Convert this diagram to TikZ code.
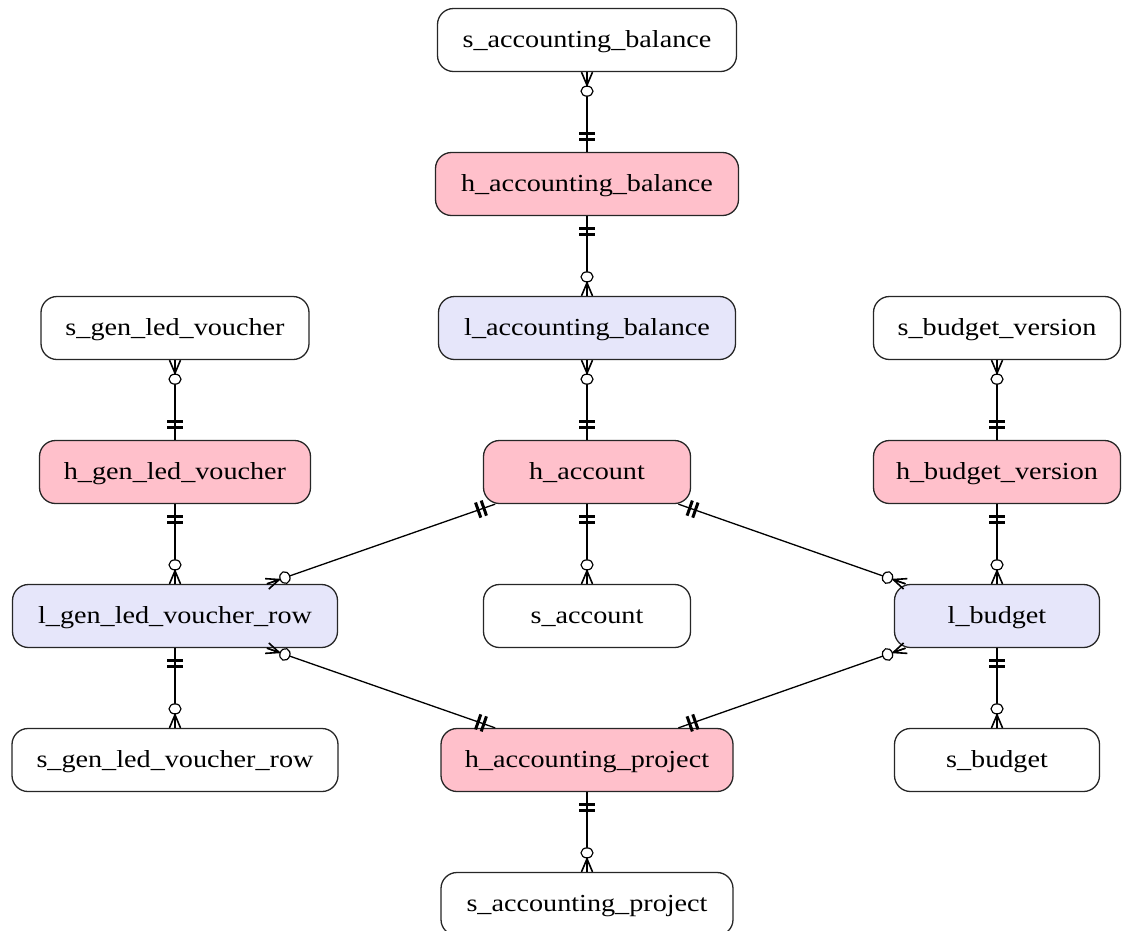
\documentclass[tikz,border=0pt]{standalone}
\usepackage{fontspec}
\setmainfont{Liberation Serif}[FakeStretch=1.15]
\usetikzlibrary{decorations.markings}
\definecolor{hubpink}{HTML}{FFC0CB}
\definecolor{linklav}{HTML}{E6E6FA}
\begin{document}
\begin{tikzpicture}[x=1pt,y=-1pt,
 ent/.style={draw=black!85, line width=1.3pt, rounded corners=16pt, minimum height=63pt, inner sep=0pt, text height=19pt, text depth=5pt, font=\fontsize{24.5}{29}\selectfont, fill=white},
 sat/.style={ent},
 hub/.style={ent, fill=hubpink},
 lnk/.style={ent, fill=linklav},
 rel/.style={draw, line width=1.3pt, postaction=decorate, decoration={markings,
   mark=at position 0 with {\fill (10.5pt,-8pt) rectangle (13.5pt,8pt); \fill (16.5pt,-8pt) rectangle (19.5pt,8pt);},
   mark=at position 1 with {\draw[line width=1.6pt] (-13pt,0pt) -- (0pt,5.5pt) (-13pt,0pt) -- (0pt,0pt) (-13pt,0pt) -- (0pt,-5.5pt); \draw[line width=1.2pt, fill=white] (-19pt,0pt) ellipse [x radius=5pt, y radius=6pt];}}}
]
\useasboundingbox (0,0) rectangle (1124,930);
\node[sat, minimum width=299pt] (sab) at (587,40) {s\_accounting\_balance};
\node[hub, minimum width=303pt] (hab) at (587,184) {h\_accounting\_balance};
\node[lnk, minimum width=297pt] (lab) at (587,328) {l\_accounting\_balance};
\node[sat, minimum width=268pt] (sglv) at (175,328) {s\_gen\_led\_voucher};
\node[sat, minimum width=247pt] (sbv) at (997,328) {s\_budget\_version};
\node[hub, minimum width=271pt] (hglv) at (175,472) {h\_gen\_led\_voucher};
\node[hub, minimum width=207pt] (hacc) at (587,472) {h\_account};
\node[hub, minimum width=247pt] (hbv) at (997,472) {h\_budget\_version};
\node[lnk, minimum width=325pt] (lglvr) at (175,616) {l\_gen\_led\_voucher\_row};
\node[sat, minimum width=207pt] (sacc) at (587,616) {s\_account};
\node[lnk, minimum width=205pt] (lbud) at (997,616) {l\_budget};
\node[sat, minimum width=326pt] (sglvr) at (175,760) {s\_gen\_led\_voucher\_row};
\node[hub, minimum width=292pt] (hap) at (587,760) {h\_accounting\_project};
\node[sat, minimum width=205pt] (sbud) at (997,760) {s\_budget};
\node[sat, minimum width=292pt] (sap) at (587,904) {s\_accounting\_project};
\draw[rel] (hab) -- (sab);
\draw[rel] (hab) -- (lab);
\draw[rel] (hacc) -- (lab);
\draw[rel] (hglv) -- (sglv);
\draw[rel] (hbv) -- (sbv);
\draw[rel] (hglv) -- (lglvr);
\draw[rel] (hacc) -- (sacc);
\draw[rel] (hbv) -- (lbud);
\draw[rel] (hacc) -- (lglvr);
\draw[rel] (hacc) -- (lbud);
\draw[rel] (hap) -- (lglvr);
\draw[rel] (hap) -- (lbud);
\draw[rel] (lglvr) -- (sglvr);
\draw[rel] (lbud) -- (sbud);
\draw[rel] (hap) -- (sap);
\end{tikzpicture}
\end{document}
